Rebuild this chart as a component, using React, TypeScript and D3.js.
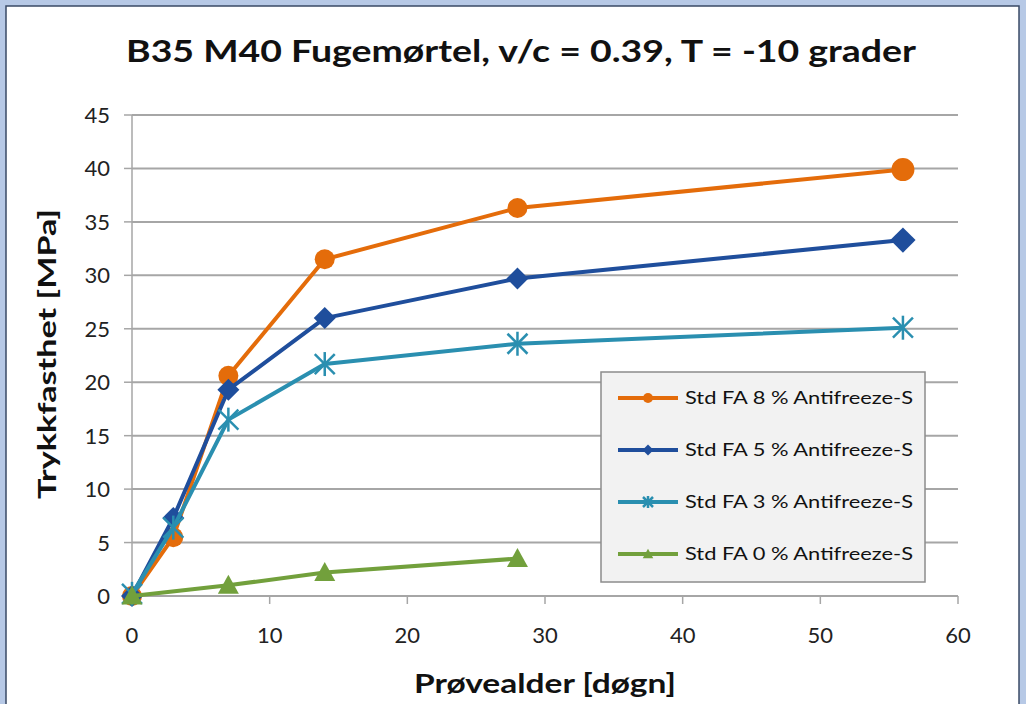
import React from "react";
import * as d3 from "d3";

const days8 = [0, 3, 7, 14, 28, 56];
const vals8 = [0, 5.5, 20.6, 31.5, 36.3, 39.9];
const days5 = [0, 3, 7, 14, 28, 56];
const vals5 = [0, 7.3, 19.3, 26.0, 29.7, 33.3];
const days3 = [0, 3, 7, 14, 28, 56];
const vals3 = [0.2, 6.4, 16.5, 21.7, 23.6, 25.1];
const days0 = [0, 7, 14, 28];
const vals0 = [0, 1.0, 2.2, 3.5];

const seriesNames = [
  "Std FA 8 % Antifreeze-S",
  "Std FA 5 % Antifreeze-S",
  "Std FA 3 % Antifreeze-S",
  "Std FA 0 % Antifreeze-S",
];
const seriesColors = ["#E46C0A", "#1F4E9C", "#2A8FB0", "#72A03C"];
const seriesMarkers = ["circle", "diamond", "asterisk", "triangle"];

const xTicks = [0, 10, 20, 30, 40, 50, 60];
const yTicks = [0, 5, 10, 15, 20, 25, 30, 35, 40, 45];

const titleText = "B35 M40 Fugemørtel, v/c = 0.39, T = -10 grader";
const xTitle = "Prøvealder [døgn]";
const yTitle = "Trykkfasthet  [MPa]";

const FONT = "Lato, 'Open Sans', sans-serif";

function Marker({ type, x, y, color, size }: any) {
  if (type === "circle") return <circle cx={x} cy={y} r={size} fill={color} />;
  if (type === "diamond") {
    const s = size * 1.1;
    return <path d={`M${x},${y - s}L${x + s},${y}L${x},${y + s}L${x - s},${y}Z`} fill={color} />;
  }
  if (type === "triangle") {
    const s = size * 1.05;
    return <path d={`M${x},${y - s}L${x + s},${y + s * 0.8}L${x - s},${y + s * 0.8}Z`} fill={color} />;
  }
  const s = size;
  return (
    <g stroke={color} strokeWidth={2.5}>
      <line x1={x - s} y1={y - s} x2={x + s} y2={y + s} />
      <line x1={x - s} y1={y + s} x2={x + s} y2={y - s} />
      <line x1={x} y1={y - s * 1.2} x2={x} y2={y + s * 1.2} />
    </g>
  );
}

export default function App() {
  const W = 1026, H = 704;
  const x = d3.scaleLinear().domain([0, 60]).range([132, 958]);
  const y = d3.scaleLinear().domain([0, 45]).range([596, 115]);
  const line = d3.line<[number, number]>().x((d) => x(d[0])).y((d) => y(d[1]));

  const series = [
    { d: days8, v: vals8 },
    { d: days5, v: vals5 },
    { d: days3, v: vals3 },
    { d: days0, v: vals0 },
  ];
  const sizes = [10, 10, 10, 10];
  const legendY = [398, 450, 502, 554];

  return (
    <svg width={W} height={H} style={{ position: "absolute", left: 0, top: 0 }}>
      <rect x={0} y={0} width={W} height={H} fill="#B7C9E6" />
      <rect x={6} y={6} width={1013} height={H} fill="#ffffff" stroke="#3a4a66" strokeWidth={1.5} />
      <text x={521} y={62} textAnchor="middle" fontFamily={FONT} fontWeight="bold" fontSize={31} fill="#111"
        textLength={790} lengthAdjust="spacingAndGlyphs">{titleText}</text>

      {yTicks.map((t) => (
        <g key={"y" + t}>
          {t > 0 && <line x1={132} x2={958} y1={y(t)} y2={y(t)} stroke="#A6A6A6" strokeWidth={2} />}
          <line x1={124} x2={132} y1={y(t)} y2={y(t)} stroke="#A6A6A6" strokeWidth={1.5} />
          <text x={110} y={y(t) + 8} textAnchor="end" fontFamily={FONT} fontSize={22} fill="#222">{t}</text>
        </g>
      ))}
      <line x1={132} x2={132} y1={y(45)} y2={y(0)} stroke="#A6A6A6" strokeWidth={1.5} />
      <line x1={132} x2={958} y1={y(0)} y2={y(0)} stroke="#A6A6A6" strokeWidth={2} />
      {xTicks.map((t) => (
        <g key={"x" + t}>
          <line x1={x(t)} x2={x(t)} y1={596} y2={604} stroke="#A6A6A6" strokeWidth={1.5} />
          <text x={x(t)} y={643} textAnchor="middle" fontFamily={FONT} fontSize={22} fill="#222">{t}</text>
        </g>
      ))}
      <text x={545} y={693} textAnchor="middle" fontFamily={FONT} fontWeight="bold" fontSize={27} fill="#111"
        textLength={262} lengthAdjust="spacingAndGlyphs">{xTitle}</text>
      <text transform={`translate(56,354) rotate(-90)`} textAnchor="middle" fontFamily={FONT} fontWeight="bold" fontSize={25} fill="#111"
        textLength={290} lengthAdjust="spacingAndGlyphs">{yTitle}</text>

      {series.map((s, i) => {
        const pts = s.d.map((d, j) => [d, s.v[j]] as [number, number]);
        return (
          <g key={"s" + i}>
            <path d={line(pts) || ""} fill="none" stroke={seriesColors[i]} strokeWidth={4} strokeLinejoin="round" />
            {pts.map((p, j) => (
              <Marker key={j} type={seriesMarkers[i]} x={x(p[0])} y={y(p[1])} color={seriesColors[i]}
                size={j === pts.length - 1 && i < 2 ? sizes[i] + 1.5 : sizes[i]} />
            ))}
          </g>
        );
      })}

      <rect x={601} y={372} width={324} height={210} fill="#F2F2F2" stroke="#8C8C8C" strokeWidth={1.5} />
      {seriesNames.map((n, i) => (
        <g key={"l" + i}>
          <line x1={618} x2={678} y1={legendY[i]} y2={legendY[i]} stroke={seriesColors[i]} strokeWidth={4} />
          <Marker type={seriesMarkers[i]} x={648} y={legendY[i]} color={seriesColors[i]} size={5} />
          <text x={685} y={legendY[i] + 6} fontFamily={FONT} fontSize={17} fill="#111"
            textLength={228} lengthAdjust="spacingAndGlyphs">{n}</text>
        </g>
      ))}
    </svg>
  );
}
